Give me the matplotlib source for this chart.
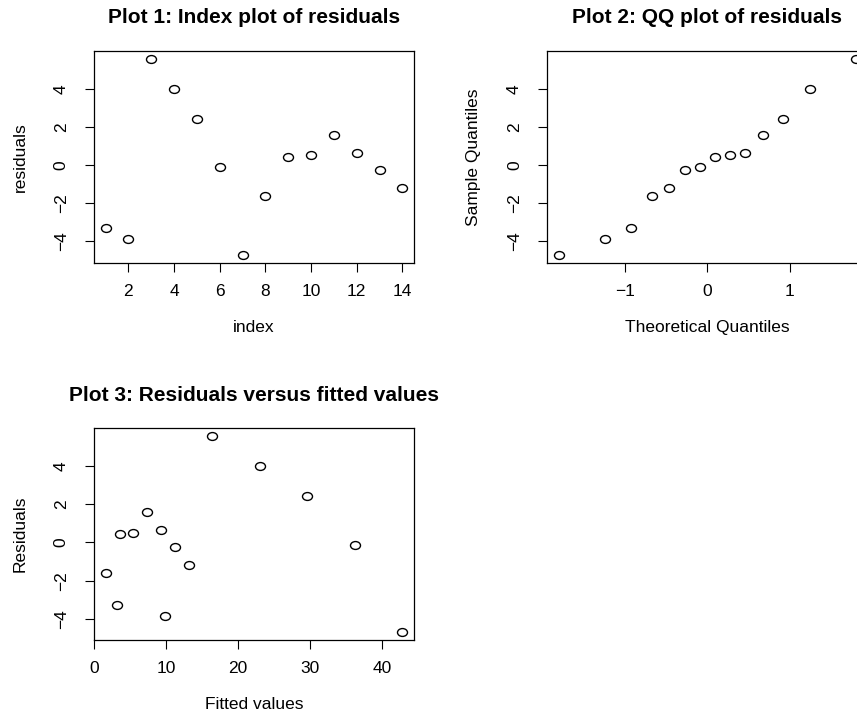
import numpy as np
import matplotlib
matplotlib.use("Agg")
import matplotlib.pyplot as plt
from matplotlib.path import Path
from matplotlib.transforms import Affine2D

plt.rcParams['font.family'] = ['Liberation Sans', 'DejaVu Sans']

# ---- data ----
index = [1, 2, 3, 4, 5, 6, 7, 8, 9, 10, 11, 12, 13, 14]
residuals = [-3.27, -3.85, 5.57, 4.00, 2.44, -0.12, -4.70,
             -1.62, 0.44, 0.52, 1.57, 0.65, -0.26, -1.18]
fitted = [3.28, 9.84, 16.44, 23.05, 29.60, 36.17, 42.77,
          1.66, 3.60, 5.50, 7.39, 9.38, 11.27, 13.16]
theoretical_q = [-1.803, -1.242, -0.921, -0.674, -0.464, -0.272, -0.090,
                 0.090, 0.272, 0.464, 0.674, 0.921, 1.242, 1.803]
sample_q = sorted(residuals)

titles = ["Plot 1: Index plot of residuals", "Plot 2: QQ plot of residuals",
          "Plot 3: Residuals versus fitted values"]
xlabels = ["index", "Theoretical Quantiles", "Fitted values"]
ylabels = ["residuals", "Sample Quantiles", "Residuals"]
xticks = [[2, 4, 6, 8, 10, 12, 14], [-1, 0, 1], [0, 10, 20, 30, 40]]
yticks = [-4, -2, 0, 2, 4]

# ---- figure ----
W, H = 857, 713
fig = plt.figure(figsize=(W / 100, H / 100), dpi=100)

def frac(left, top, right, bottom):
    return [left / W, 1 - bottom / H, (right - left) / W, (bottom - top) / H]

positions = [frac(93.7, 51, 414.3, 262.7),
             frac(547.0, 51, 867.6, 262.7),
             frac(93.7, 428.3, 414.3, 640.0)]

# slightly wide ellipse marker (reference is horizontally stretched)
circ = Path.unit_circle()
ell = Affine2D().scale(1.27, 1.0).transform_path(circ)

def rpad(lo, hi):
    r = hi - lo
    return lo - 0.04 * r, hi + 0.04 * r

datasets = [(index, residuals), (theoretical_q, sample_q), (fitted, residuals)]

for i, (x, y) in enumerate(datasets):
    ax = fig.add_axes(positions[i])
    ax.plot(x, y, linestyle='none', marker=ell, markersize=7.2,
            markerfacecolor='none', markeredgecolor='black', markeredgewidth=1.0)
    ax.set_xlim(*rpad(min(x), max(x)))
    ax.set_ylim(*rpad(min(y), max(y)))
    ax.set_xticks(xticks[i])
    ax.set_yticks(yticks)
    ax.set_yticklabels([f"{t}".replace('-', '\u2212') for t in yticks],
                       rotation=90, va='center')
    ax.tick_params(axis='both', direction='out', length=6.5, width=0.8,
                   labelsize=12.5, color='black')
    ax.tick_params(axis='x', pad=8.5)
    ax.tick_params(axis='y', pad=11.5)
    for s in ax.spines.values():
        s.set_linewidth(0.9)
    ax.set_title(titles[i], fontsize=15, fontweight='bold', pad=20)
    ax.set_xlabel(xlabels[i], fontsize=12.5, va='center')
    ax.set_ylabel(ylabels[i], fontsize=12.5, va='center')
    ax.xaxis.set_label_coords(0.5, -0.306)
    ax.yaxis.set_label_coords(-0.228, 0.5)

fig.savefig("out.png", dpi=100)
